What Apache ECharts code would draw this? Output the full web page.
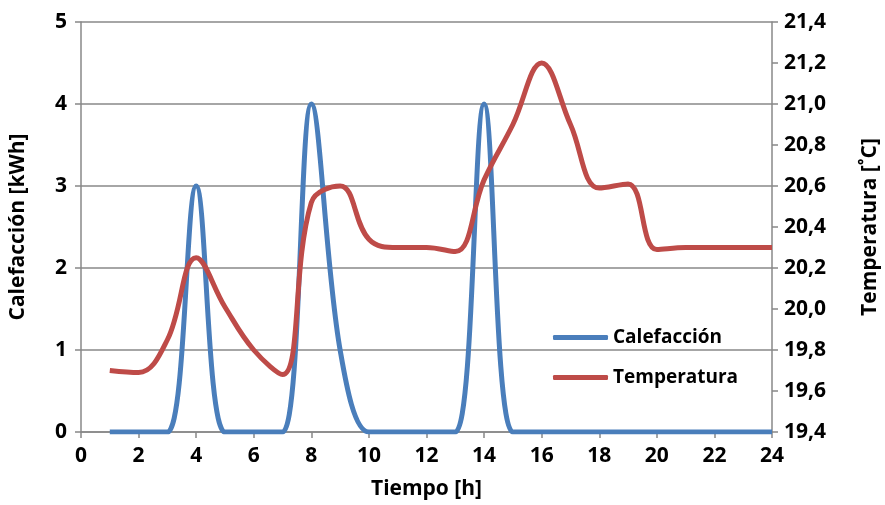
<!DOCTYPE html>
<html>
<head>
<meta charset="utf-8">
<script src="https://cdn.jsdelivr.net/npm/echarts@6/dist/echarts.min.js"></script>
<style>
  html, body { margin: 0; padding: 0; background: #fff; }
  #chart { width: 885px; height: 505px; }
</style>
</head>
<body>
<div id="chart"></div>
<script>
// hours 1..24
var hours = [1, 2, 3, 4, 5, 6, 7, 8, 9, 10, 11, 12, 13, 14, 15, 16, 17, 18, 19, 20, 21, 22, 23, 24];
var calefaccion = [0, 0, 0, 3, 0, 0, 0, 4, 1, 0, 0, 0, 0, 4, 0, 0, 0, 0, 0, 0, 0, 0, 0, 0];
var temperatura = [19.70, 19.69, 19.85, 20.25, 20.01, 19.80, 19.68, 20.52, 20.60, 20.34, 20.30, 20.30,
                   20.28, 20.63, 20.90, 21.20, 20.90, 20.59, 20.61, 20.29, 20.30, 20.30, 20.30, 20.30];

var labelFont = { fontFamily: 'Open Sans', fontWeight: 'bold', fontSize: 21, color: '#000' };
var nameFont = { fontFamily: 'Open Sans', fontWeight: 'bold', fontSize: 21, color: '#000' };
var gridLine = { lineStyle: { color: '#888', width: 1.5 } };

function pairs(vals) {
  return hours.map(function (h, i) { return [h, vals[i]]; });
}

var chart = echarts.init(document.getElementById('chart'));
chart.setOption({
  animation: false,
  grid: { left: 81, right: 113, top: 22, bottom: 73, outerBoundsMode: 'none' },
  legend: {
    orient: 'vertical',
    left: 548,
    top: 323,
    itemWidth: 55,
    itemHeight: 5,
    itemGap: 21,
    icon: 'roundRect',
    textStyle: { fontFamily: 'Open Sans', fontWeight: 'bold', fontSize: 19, color: '#000' },
    data: ['Calefacción', 'Temperatura']
  },
  xAxis: {
    type: 'value',
    min: 0, max: 24, interval: 2,
    name: 'Tiempo [h]',
    nameLocation: 'middle',
    nameGap: 47,
    nameTextStyle: nameFont,
    axisLine: { lineStyle: { color: '#888', width: 1.5 } },
    axisTick: { show: true, length: 6, lineStyle: { color: '#888', width: 1.5 } },
    axisLabel: Object.assign({ margin: 14 }, labelFont),
    splitLine: { show: false }
  },
  yAxis: [
    {
      type: 'value',
      min: 0, max: 5, interval: 1,
      name: 'Calefacción [kWh]',
      nameLocation: 'middle',
      nameGap: 52,
      nameRotate: 90,
      nameTextStyle: nameFont,
      axisLine: { show: true, lineStyle: { color: '#888', width: 1.5 } },
      axisTick: { show: true, length: 6, lineStyle: { color: '#888', width: 1.5 } },
      axisLabel: Object.assign({ margin: 14 }, labelFont),
      splitLine: gridLine
    },
    {
      type: 'value',
      min: 19.4, max: 21.4, interval: 0.2,
      name: 'Temperatura [˚C]',
      nameLocation: 'middle',
      nameGap: 88,
      nameRotate: 90,
      nameTextStyle: nameFont,
      axisLine: { show: true, lineStyle: { color: '#888', width: 1.5 } },
      axisTick: { show: true, length: 6, lineStyle: { color: '#888', width: 1.5 } },
      axisLabel: Object.assign({
        margin: 12,
        formatter: function (v) { return v.toFixed(1).replace('.', ','); }
      }, labelFont),
      splitLine: { show: false }
    }
  ],
  series: [
    {
      name: 'Calefacción',
      type: 'line',
      yAxisIndex: 0,
      data: pairs(calefaccion),
      smooth: 0.35,
      showSymbol: false,
      symbol: 'none',
      color: '#4a7ebb',
      lineStyle: { width: 5, color: '#4a7ebb' }
    },
    {
      name: 'Temperatura',
      type: 'line',
      yAxisIndex: 1,
      data: pairs(temperatura),
      smooth: 0.4,
      showSymbol: false,
      symbol: 'none',
      color: '#be4b48',
      lineStyle: { width: 5, color: '#be4b48' }
    }
  ]
});
</script>
</body>
</html>
